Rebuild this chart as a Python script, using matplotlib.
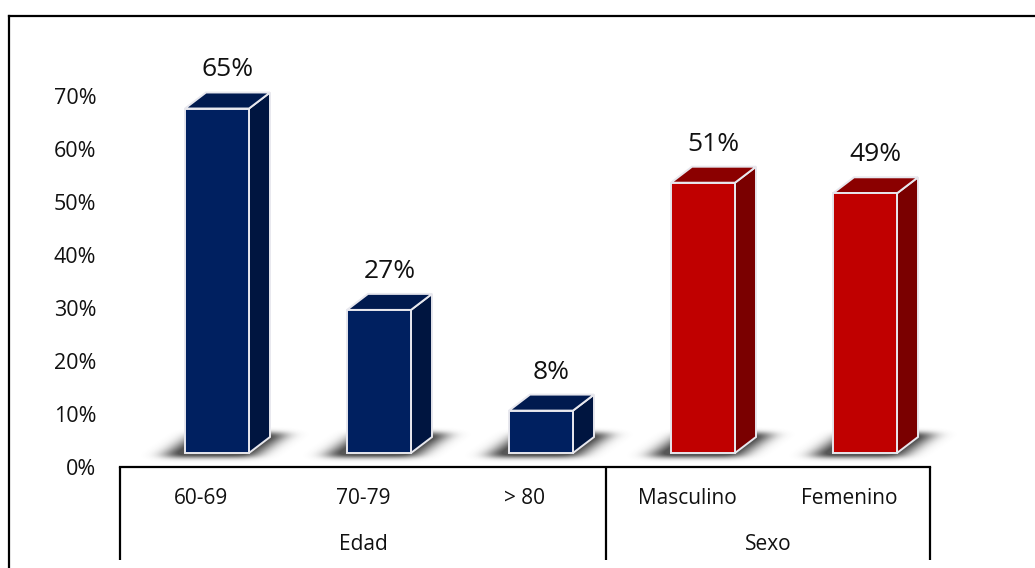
import numpy as np
import matplotlib
matplotlib.use("Agg")
import matplotlib.pyplot as plt
from matplotlib.patches import Polygon
from matplotlib.lines import Line2D

plt.rcParams['font.family'] = ['Open Sans', 'DejaVu Sans']

# data
categories = ["60-69", "70-79", "> 80", "Masculino", "Femenino"]
values = [65, 27, 8, 51, 49]
groups = ["Edad", "Sexo"]
group_sizes = [3, 2]
yticks = [0, 10, 20, 30, 40, 50, 60, 70]

front_cols = ["#002060"] * 3 + ["#C00000"] * 2
top_cols = ["#001A4F"] * 3 + ["#8B0000"] * 2
side_cols = ["#001540"] * 3 + ["#7A0000"] * 2

W, H = 1035, 568
fig = plt.figure(figsize=(W / 100, H / 100), dpi=100)

# axes placed so 0% sits at y=467 px and 70% at y=96 px
ppu = (467 - 96) / 70.0
top_px = 30
ymax = (467 - top_px) / ppu
ax = fig.add_axes([120 / W, (H - 467) / H, 810 / W, (467 - top_px) / H])
for s in ax.spines.values():
    s.set_visible(False)
ax.set_xticks([])
ax.set_yticks(yticks)
ax.set_yticklabels([f"{t}%" for t in yticks], fontsize=15.5, color="#111111")
ax.tick_params(axis="y", length=0, pad=17)

upx = 1 / 162.0           # category units per pixel
base = 14 / ppu           # floor lift of the 3D bars
dx, dy = 21 * upx, 16 / ppu
bw = 64 * upx
off = -16 * upx


def blur1d(a, sigma, axis):
    r = int(3 * sigma)
    k = np.exp(-0.5 * (np.arange(-r, r + 1) / sigma) ** 2)
    k /= k.sum()
    return np.apply_along_axis(lambda m: np.convolve(m, k, mode="same"), axis, a)


for i, v in enumerate(values):
    x0 = i + off
    x1 = x0 + bw
    y0 = base
    y1 = base + v

    # soft floor shadow, a sheared slab under the bar
    ex0, ex1 = x0 - 60 * upx, x1 + dx + 70 * upx
    ey0, ey1 = y0 - 20 / ppu, y0 + 45 / ppu
    nx, ny = int(round((ex1 - ex0) / upx)), int(round((ey1 - ey0) * ppu))
    gx = np.linspace(ex0, ex1, nx)
    gy = np.linspace(ey1, ey0, ny)
    XX, YY = np.meshgrid(gx, gy)
    sb, st = y0 - 4 / ppu, y0 + 20 / ppu
    t = np.clip((YY - sb) / (st - sb), 0, 1)
    shear = 34 * upx * t
    mask = ((YY >= sb) & (YY <= st) &
            (XX >= x0 - 22 * upx + shear) & (XX <= x1 + 4 * upx + shear)).astype(float)
    mask = blur1d(blur1d(mask, 10, 1), 2.5, 0)
    img = np.zeros((ny, nx, 4))
    img[..., :3] = 0.25
    img[..., 3] = np.clip(1.15 * mask, 0, 0.88)
    im = ax.imshow(img, extent=(ex0, ex1, ey0, ey1), aspect="auto", zorder=1,
                   interpolation="bilinear")
    im.set_clip_on(False)

    front = Polygon([(x0, y0), (x1, y0), (x1, y1), (x0, y1)], closed=True,
                    facecolor=front_cols[i], edgecolor="#E8E8EE", lw=1.4, zorder=3)
    side = Polygon([(x1, y0), (x1 + dx, y0 + dy), (x1 + dx, y1 + dy), (x1, y1)],
                   closed=True, facecolor=side_cols[i], edgecolor="#E8E8EE", lw=1.4, zorder=3)
    top = Polygon([(x0, y1), (x1, y1), (x1 + dx, y1 + dy), (x0 + dx, y1 + dy)],
                  closed=True, facecolor=top_cols[i], edgecolor="#E8E8EE", lw=1.4, zorder=3)
    for p in (side, top, front):
        ax.add_patch(p)

    ax.text((x0 + x1 + dx) / 2, y1 + dy + 10 / ppu, f"{v}%", ha="center", va="bottom",
            fontsize=19, color="#111111", zorder=4)

ax.set_xlim(-0.5, len(categories) - 0.5)
ax.set_ylim(0, ymax)

# category axis with grouped labels
lo = -93 / ppu
ax.plot([-0.5, len(categories) - 0.5], [0, 0], color="black", lw=1.6, clip_on=False)
start = -0.5
edges = [start]
for g, n in zip(groups, group_sizes):
    end = start + n
    ax.text((start + end) / 2, -78 / ppu, g, ha="center", va="center", fontsize=15,
            color="#111111")
    edges.append(end)
    start = end
for e in edges:
    ax.plot([e, e], [0, lo], color="black", lw=1.6, clip_on=False, solid_capstyle="butt")
for i, c in enumerate(categories):
    ax.text(i, -31 / ppu, c, ha="center", va="center", fontsize=15, color="#111111")

# outer frame (left and top edges)
fig.add_artist(Line2D([9 / W, 9 / W], [0, 1 - 16 / H], color="black", lw=1.6))
fig.add_artist(Line2D([9 / W, 1], [1 - 16 / H, 1 - 16 / H], color="black", lw=1.6))

fig.savefig("out.png", dpi=100)
